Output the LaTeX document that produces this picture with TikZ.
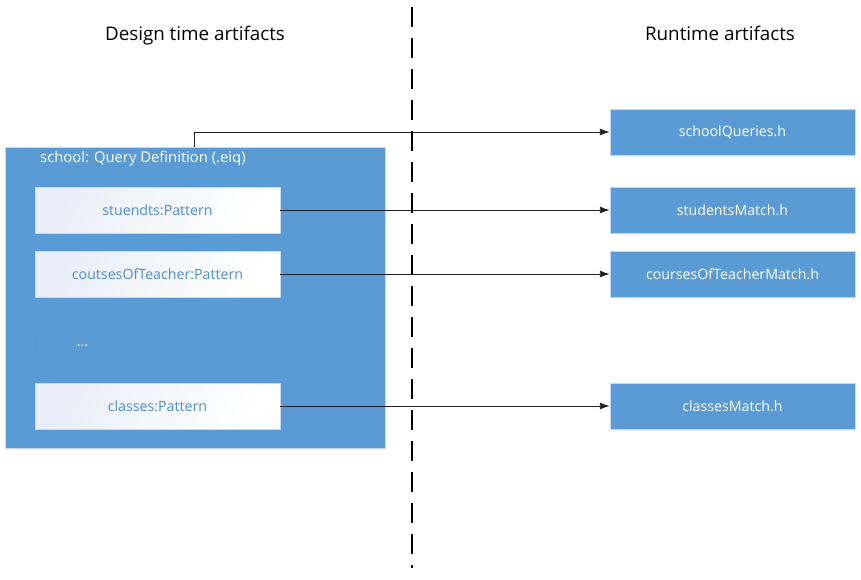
\documentclass[tikz,border=0pt]{standalone}
\usepackage{fontspec}
\setmainfont{Open Sans}
\usetikzlibrary{arrows.meta,shadows}

\definecolor{boxblue}{HTML}{5B9BD5}
\definecolor{boxedge}{HTML}{C9D9EC}
\definecolor{pattext}{HTML}{4F8FD0}
\definecolor{patfill}{HTML}{E9EEF8}
\definecolor{linegray}{HTML}{202020}

\tikzset{
  title/.style={font=\fontsize{18.8}{22}\selectfont, text=black, anchor=base},
  artifact/.style={rectangle, draw=boxedge, fill=boxblue, text=white,
    minimum width=245pt, minimum height=46pt, inner sep=0pt,
    font=\fontsize{14.2}{17}\selectfont,
    drop shadow={opacity=0.12, shadow xshift=1pt, shadow yshift=-1.5pt}},
  pattern/.style={rectangle, draw=boxedge, left color=patfill, right color=white,
    shading angle=60, text=pattext,
    minimum width=245pt, minimum height=46pt, inner sep=0pt,
    font=\fontsize{14.2}{17}\selectfont},
  link/.style={-{Latex[length=10pt,width=7pt]}, draw=linegray, line width=0.9pt}
}

\begin{document}
\begin{tikzpicture}[x=1pt,y=-1pt]
  \useasboundingbox (0,0) rectangle (861,579);

  % Column titles
  \node[title] (designtitle) at (195, 40) {Design time artifacts};
  \node[title] (runtitle) at (720, 40) {Runtime artifacts};

  % Separator
  \coordinate (septop) at (412, 7);
  \coordinate (sepbot) at (412, 568);
  \draw[line width=2.6pt, dash pattern=on 19.8pt off 11.2pt] (septop) -- (sepbot);

  % Query definition container
  \node[rectangle, draw=boxedge, fill=boxblue, minimum width=380pt,
    minimum height=301pt, inner sep=0pt,
    drop shadow={opacity=0.12, shadow xshift=1pt, shadow yshift=-1.5pt}]
    (school) at (195, 297.5) {};
  \node[anchor=west, text=white, font=\fontsize{14.8}{17}\selectfont, inner sep=0pt]
    (schoollabel) at (40, 159) {school: Query Definition (.eiq)};

  % Patterns
  \node[pattern] (students) at (157.5, 210) {stuendts:Pattern};
  \node[pattern] (courses) at (157.5, 274) {coutsesOfTeacher:Pattern};
  \node[rectangle, draw=boxblue!98!black, minimum width=95pt,
    minimum height=26pt, inner sep=0pt, text=white,
    font=\fontsize{14.2}{17}\selectfont] (dots) at (82.5, 345.5) {...};
  \node[pattern] (classes) at (157.5, 406) {classes:Pattern};

  % Runtime artifacts
  \node[artifact] (queries) at (732.5, 132) {schoolQueries.h};
  \node[artifact] (studentsh) at (732.5, 210) {studentsMatch.h};
  \node[artifact] (coursesh) at (732.5, 274) {coursesOfTeacherMatch.h};
  \node[artifact] (classesh) at (732.5, 406) {classesMatch.h};

  % Generation
  \coordinate (schooltop) at (194, 147);
  \draw[link] (schooltop) |- (queries.west);
  \draw[link] (students) -- (studentsh);
  \draw[link] (courses) -- (coursesh);
  \draw[link] (classes) -- (classesh);

\end{tikzpicture}
\end{document}
